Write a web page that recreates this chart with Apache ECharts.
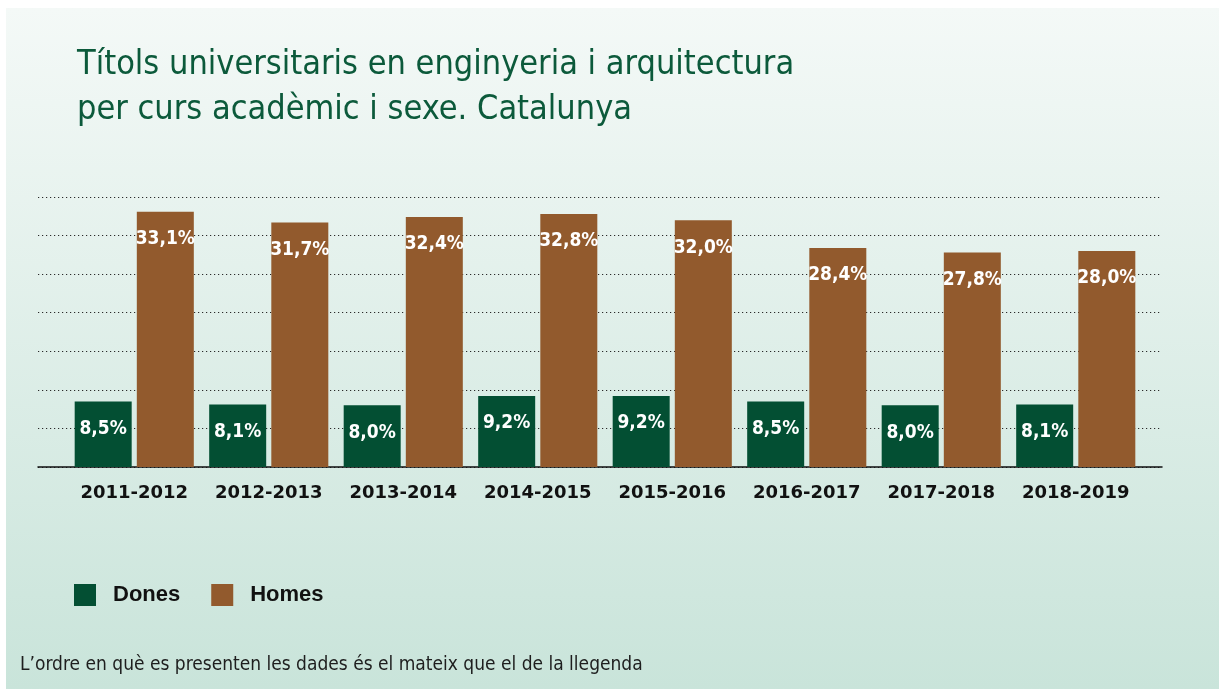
<!DOCTYPE html>
<html>
<head>
<meta charset="utf-8">
<title>Títols universitaris en enginyeria i arquitectura</title>
<script src="https://cdn.jsdelivr.net/npm/echarts@6/dist/echarts.min.js"></script>
<style>
  html, body { margin: 0; padding: 0; background: #ffffff; }
  #chart { width: 1224px; height: 689px; }
</style>
</head>
<body>
<div id="chart"></div>
<script>
// dades del gràfic
var cursos = ['2011-2012', '2012-2013', '2013-2014', '2014-2015', '2015-2016', '2016-2017', '2017-2018', '2018-2019'];
var dones = [8.5, 8.1, 8.0, 9.2, 9.2, 8.5, 8.0, 8.1];
var homes = [33.1, 31.7, 32.4, 32.8, 32.0, 28.4, 27.8, 28.0];
var seriesNames = ['Dones', 'Homes'];
var titleText = 'Títols universitaris en enginyeria i arquitectura\nper curs acadèmic i sexe. Catalunya';
var noteText = 'L\u2019ordre en què es presenten les dades és el mateix que el de la llegenda';

var NARROW = "'Liberation Sans Narrow', 'DejaVu Sans Condensed', 'Arial Narrow', sans-serif";
var BOLD = "'Liberation Sans', Arial, Helvetica, sans-serif";
var colDones = '#034f33';
var colHomes = '#925a2d';

// format català: coma decimal
function pct(v) {
  return v.toFixed(1).replace('.', ',') + '%';
}

var barLabel = {
  show: true,
  position: 'insideTop',
  distance: 18,
  color: '#ffffff',
  fontFamily: NARROW,
  fontWeight: 'bold',
  fontSize: 19,
  formatter: function (p) { return pct(p.value); }
};

var chart = echarts.init(document.getElementById('chart'));

var option = {
  backgroundColor: '#ffffff',
  animation: false,
  title: {
    text: titleText,
    left: 72,
    top: 38,
    textStyle: {
      fontFamily: NARROW,
      fontWeight: 'normal',
      fontSize: 34,
      lineHeight: 45,
      color: '#0c5a3b'
    }
  },
  graphic: [
    {
      type: 'rect',
      z: -10,
      shape: { x: 6, y: 8, width: 1213, height: 681 },
      style: {
        fill: new echarts.graphic.LinearGradient(0, 0, 0, 1, [
          { offset: 0, color: '#f4f9f7' },
          { offset: 1, color: '#c9e4da' }
        ])
      }
    },
    {
      type: 'text',
      left: 20,
      top: 656,
      style: {
        text: noteText,
        fontFamily: NARROW,
        fontSize: 19,
        fill: '#1e1e1e'
      }
    }
  ],
  legend: {
    data: seriesNames,
    left: 69,
    top: 579,
    icon: 'rect',
    itemWidth: 22,
    itemHeight: 22,
    itemGap: 31,
    textStyle: {
      fontFamily: BOLD,
      fontWeight: 'bold',
      fontSize: 22,
      color: '#111111',
      padding: [0, 0, 0, 12]
    }
  },
  grid: [
    // barres
    { left: 67, right: 81, top: 197, height: 270 },
    // línies de la quadrícula (més amples que les barres)
    { left: 38, right: 62, top: 197, height: 270 }
  ],
  xAxis: [
    {
      type: 'category',
      gridIndex: 0,
      data: cursos,
      axisLine: { show: false },
      axisTick: { show: false },
      axisLabel: {
        interval: 0,
        margin: 17,
        fontFamily: "'DejaVu Sans', sans-serif",
        fontWeight: 'bold',
        fontSize: 18,
        color: '#111111'
      }
    },
    {
      type: 'value',
      gridIndex: 1,
      min: 0,
      max: 1,
      axisLine: { show: true, onZero: false, lineStyle: { color: '#111111', width: 1.5 } },
      axisTick: { show: false },
      axisLabel: { show: false },
      splitLine: { show: false }
    }
  ],
  yAxis: [
    {
      type: 'value',
      gridIndex: 0,
      min: 0,
      max: 35,
      interval: 5,
      axisLine: { show: false },
      axisTick: { show: false },
      axisLabel: { show: false },
      splitLine: { show: false }
    },
    {
      type: 'value',
      gridIndex: 1,
      min: 0,
      max: 35,
      interval: 5,
      axisLine: { show: false },
      axisTick: { show: false },
      axisLabel: { show: false },
      splitLine: {
        show: true,
        lineStyle: { color: '#2a2a2a', width: 1.2, type: [1.2, 2.8] }
      }
    }
  ],
  series: [
    {
      name: seriesNames[0],
      type: 'bar',
      xAxisIndex: 0,
      yAxisIndex: 0,
      barWidth: 57,
      barGap: '9%',
      itemStyle: { color: colDones },
      label: barLabel,
      data: dones,
      z: 5
    },
    {
      name: seriesNames[1],
      type: 'bar',
      xAxisIndex: 0,
      yAxisIndex: 0,
      barWidth: 57,
      barGap: '9%',
      itemStyle: { color: colHomes },
      label: barLabel,
      data: homes,
      z: 5
    }
  ]
};

chart.setOption(option);
</script>
</body>
</html>
